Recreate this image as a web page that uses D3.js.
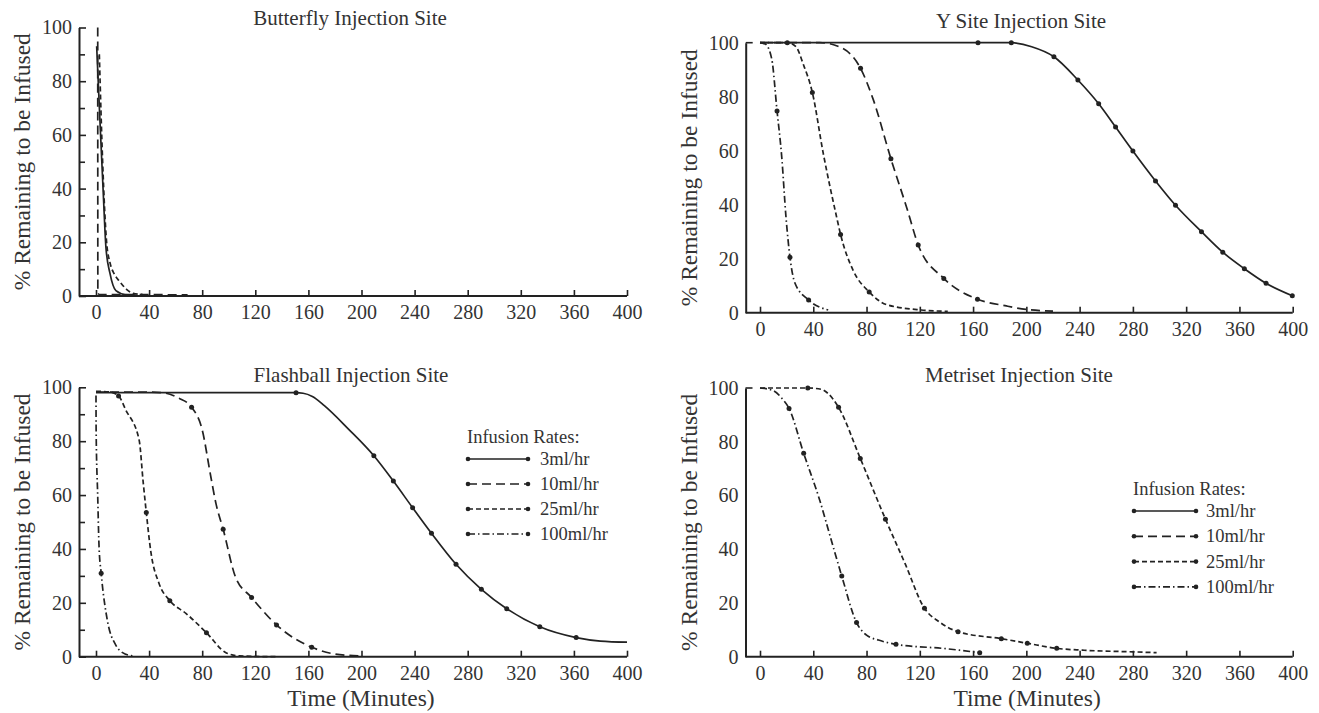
<!DOCTYPE html>
<html><head><meta charset="utf-8">
<script src="https://cdn.jsdelivr.net/npm/d3@7"></script>
<style>
body{margin:0;background:#fff}
svg{display:block}
text{font-family:"Liberation Serif","Times New Roman",serif;fill:#333}
</style>
</head><body>
<svg id="c" width="1319" height="713"></svg>
<script>
// ---------- data ----------
const xTicks = [0,40,80,120,160,200,240,280,320,360,400];
const yTicks = [0,20,40,60,80,100];
const yMinor = [10,30,50,70,90];
const rateLabels = ["3ml/hr","10ml/hr","25ml/hr","100ml/hr"];
const panelTitles = ["Butterfly Injection Site","Y Site Injection Site","Flashball Injection Site","Metriset Injection Site"];
const yTitle = "% Remaining to be Infused";
const xTitle = "Time (Minutes)";
const legendTitle = "Infusion Rates:";

// [minutes, % remaining, has marker]
const butterfly3  = [[0.5,93,0],[3,65,0],[5.5,38,0],[7.5,18,0],[10.5,8.5,0],[15,2,0],[23,0.4,0],[30,0.2,0]];
const butterfly10 = [[1.3,100,0],[1.4,1,0],[3,0.5,0],[40,0.5,0],[69,0.4,0]];
const butterfly25 = [[2.5,90,0],[5,50,0],[8,20,0],[10.6,12.3,0],[14,8,0],[18,5.3,0],[23,2.5,0],[28,1,0],[35,0.6,0]];

const ysite3   = [[0,100,0],[163.7,100,1],[188.7,100,1],[204,98.5,0],[220.7,94.8,1],[238.7,86.2,1],[254.3,77.4,1],[267,68.8,1],[280,59.9,1],[297,48.8,1],[312,39.8,1],[331.5,30,1],[347.5,22.4,1],[363.7,16.3,1],[380,10.9,1],[399.7,6.3,1]];
const ysite10  = [[0,100,0],[45,100,0],[58,98.8,0],[75.5,90.5,1],[85,79,0],[98.3,57,1],[110.3,38.7,0],[118.8,25.1,1],[138,12.7,1],[163.3,5,1],[185,2.5,0],[200,1.2,0],[220,0.6,0]];
const ysite25  = [[0,100,0],[20.5,100,1],[27,98.5,0],[32.5,92,0],[39.3,81.6,1],[47.5,59,0],[57.5,35.5,0],[60.5,29,1],[70,15.6,0],[82,7.7,1],[95,3,0],[121,1,0],[141,0.5,0]];
const ysite100 = [[0,100,0],[4,99.5,0],[8.8,94,0],[12.8,74.7,1],[16.3,57.8,0],[19.5,35.5,0],[22.5,20.5,1],[26.3,10.9,0],[36.5,4.7,1],[51.2,1,0]];

const flash3   = [[0,98,0],[150.7,98,1],[156,97.8,0],[163,96.6,0],[172,93.2,0],[190,84.6,0],[209.3,74.6,1],[224,65.2,1],[238.5,55.3,1],[252.7,45.8,1],[271.2,34.3,1],[290.3,25,1],[309.4,17.8,1],[334.3,11.1,1],[361.7,7.1,1],[380,5.8,0],[400,5.4,0]];
const flash10  = [[0,98.2,0],[40,98.2,0],[52.6,97.8,0],[62.6,95.9,0],[72,92.6,1],[80,84.2,0],[86.5,66.8,0],[90.3,57,0],[95.8,47.3,1],[105,29.7,0],[117.2,22,1],[136,11.8,1],[162.5,3.5,1],[180,1,0],[198,0.3,0]];
const flash25  = [[0,98.5,0],[10,98.3,0],[17,96.8,1],[22.4,91.6,0],[32.5,80.4,0],[35.5,65,0],[37.9,53.5,1],[41.3,39,0],[47.5,27.2,0],[55.6,20.8,1],[67.7,16.1,0],[83.2,8.9,1],[97.9,1.5,0],[108,0.3,0],[135.6,0,0]];
const flash100 = [[0,97,0],[0.1,84,0],[1.3,59.4,0],[2.3,40.8,0],[3.9,31,1],[8.5,13.6,0],[14.9,4.3,0],[20,1.5,0],[27.4,0.3,0]];

const metri25  = [[0,100,0],[35.9,100,1],[46,99.5,0],[51,98,0],[59,92.8,1],[75.3,73.8,1],[94.2,51.2,1],[108.8,34.8,0],[123.5,18,1],[134.5,13,0],[148.7,9.3,1],[181.2,6.7,1],[200.7,5,1],[222.8,3.1,1],[243.3,2.4,0],[280,1.8,0],[297.8,1.5,0]];
const metri100 = [[0,100,0],[10,99,0],[16.4,96.2,0],[21.8,92.4,1],[32.8,75.7,1],[44.8,58.3,0],[54.2,42.2,0],[61.4,30,1],[72.5,12.7,1],[80,8,0],[88.9,6.2,0],[102.1,4.6,1],[139.3,3,0],[165,1.5,1]];

// ---------- layout / style ----------
const dashes = [null,"9,5","5,3","7,3,1.5,3"];
const ink = "#222";
const panels = [
  {title:panelTitles[0], ax:79,  x0:96,  x1:627,   top:27.5, bottom:296,  tx:350,  ty:25,  minor:true,
   series:[[0,butterfly3],[1,butterfly10],[2,butterfly25]], legend:null, xlab:false},
  {title:panelTitles[1], ax:745.7, x0:760, x1:1292.7, top:42.7, bottom:312.7, tx:1021, ty:28, minor:false,
   series:[[0,ysite3],[1,ysite10],[2,ysite25],[3,ysite100]], legend:null, xlab:false},
  {title:panelTitles[2], ax:79,  x0:96,  x1:627,   top:387.3, bottom:656.7, tx:351, ty:382, minor:true,
   series:[[0,flash3],[1,flash10],[2,flash25],[3,flash100]], legend:{x:467,y:443,x2:528,lx:540,step:25,first:16}, xlab:true},
  {title:panelTitles[3], ax:745.5, x0:760, x1:1292.7, top:388, bottom:656.7, tx:1019, ty:382, minor:false,
   series:[[2,metri25],[3,metri100]], legend:{x:1133,y:495,x2:1196,lx:1206,step:25.3,first:16}, xlab:true}
];

const svg = d3.select("#c");
svg.append("rect").attr("width",1319).attr("height",713).attr("fill","#fff");

panels.forEach(p => {
  const x = d3.scaleLinear().domain([0,400]).range([p.x0,p.x1]);
  const y = d3.scaleLinear().domain([0,100]).range([p.bottom,p.top]);
  const g = svg.append("g");

  // title
  g.append("text").attr("x",p.tx).attr("y",p.ty).attr("text-anchor","middle")
    .attr("font-size",21).text(p.title);

  // x axis
  const xa = g.append("g").attr("transform",`translate(0,${p.bottom})`)
    .call(d3.axisBottom(x).tickValues(xTicks).tickSizeInner(-6).tickSizeOuter(0).tickPadding(9));
  xa.select(".domain").remove();
  xa.selectAll("line").attr("stroke",ink).attr("stroke-width",1.6);
  xa.selectAll("text").attr("font-size",20).attr("fill","#333").attr("font-family",null);
  g.append("line").attr("x1",p.ax).attr("x2",p.x1).attr("y1",p.bottom).attr("y2",p.bottom)
    .attr("stroke",ink).attr("stroke-width",2);

  // y axis
  const ya = g.append("g").attr("transform",`translate(${p.ax},0)`)
    .call(d3.axisLeft(y).tickValues(yTicks).tickSizeInner(p.minor?-7:0).tickSizeOuter(0).tickPadding(7));
  ya.select(".domain").attr("stroke",ink).attr("stroke-width",2);
  ya.selectAll("line").attr("stroke",ink).attr("stroke-width",1.6);
  ya.selectAll("text").attr("font-size",20).attr("fill","#333").attr("font-family",null);
  if (p.minor) {
    const ym = g.append("g").attr("transform",`translate(${p.ax},0)`)
      .call(d3.axisLeft(y).tickValues(yMinor).tickSizeInner(-6).tickSizeOuter(0).tickFormat(""));
    ym.select(".domain").remove();
    ym.selectAll("line").attr("stroke",ink).attr("stroke-width",1.6);
  } else {
    g.append("line").attr("x1",p.ax).attr("x2",p.ax+7).attr("y1",y(100)).attr("y2",y(100))
      .attr("stroke",ink).attr("stroke-width",1.6);
  }

  // y title
  g.append("text").attr("transform",`translate(${p.ax-57},${(p.top+p.bottom)/2}) rotate(-90)`)
    .attr("text-anchor","middle").attr("dominant-baseline","central")
    .attr("font-size",23.5).text(yTitle);

  if (p.xlab) {
    g.append("text").attr("x",(p.ax+p.x1)/2+8).attr("y",706).attr("text-anchor","middle")
      .attr("font-size",23.5).text(xTitle);
  }

  // series
  const line = d3.line().x(d=>x(d[0])).y(d=>y(d[1])).curve(d3.curveMonotoneX);
  p.series.forEach(([ri,data]) => {
    g.append("path").attr("d",line(data)).attr("fill","none").attr("stroke",ink)
      .attr("stroke-width",1.7).attr("stroke-dasharray",dashes[ri]);
    g.selectAll(null).data(data.filter(d=>d[2])).enter().append("circle")
      .attr("cx",d=>x(d[0])).attr("cy",d=>y(d[1])).attr("r",2.5).attr("fill",ink);
  });

  // legend
  if (p.legend) {
    const L = p.legend;
    g.append("text").attr("x",L.x).attr("y",L.y).attr("font-size",18.5).text(legendTitle);
    rateLabels.forEach((lab,i) => {
      const yy = L.y + L.first + i*L.step;
      g.append("line").attr("x1",L.x+1).attr("x2",L.x2).attr("y1",yy).attr("y2",yy)
        .attr("stroke",ink).attr("stroke-width",1.7).attr("stroke-dasharray",dashes[i]);
      [L.x+1,L.x2].forEach(cx => g.append("circle").attr("cx",cx).attr("cy",yy).attr("r",2.3).attr("fill",ink));
      g.append("text").attr("x",L.lx).attr("y",yy).attr("dominant-baseline","central")
        .attr("font-size",18.5).text(lab);
    });
  }
});
</script>
</body></html>
